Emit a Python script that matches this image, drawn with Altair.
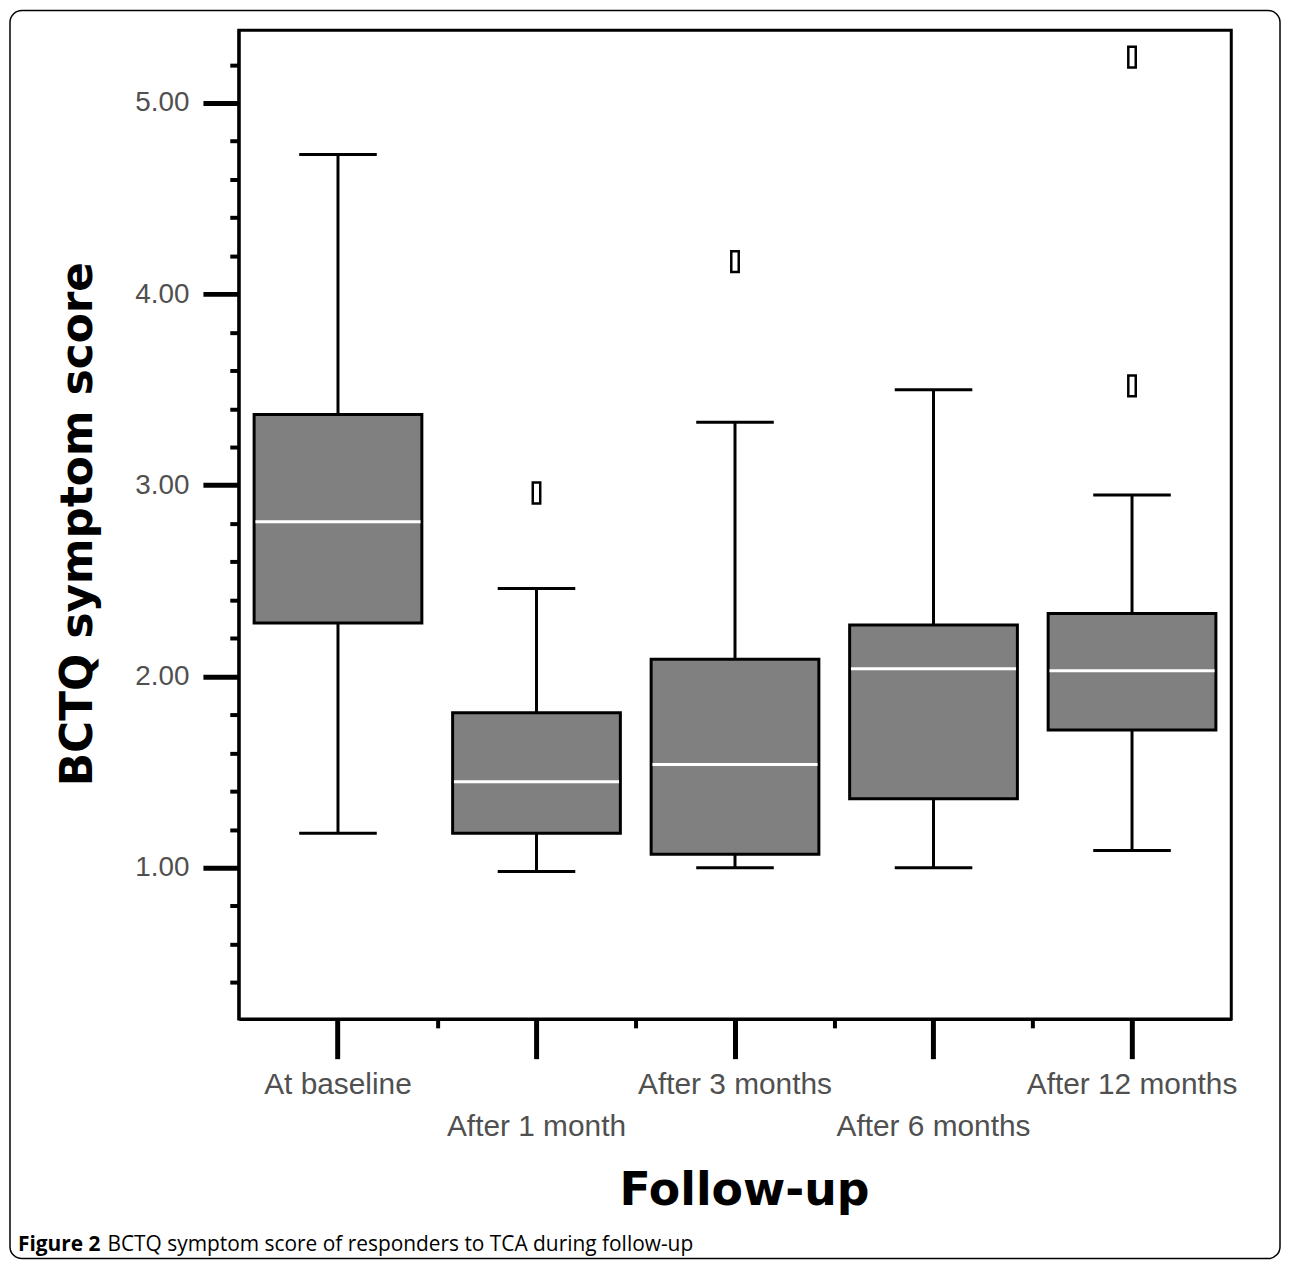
import altair as alt
import pandas as pd

# ---- data ----
categories = ["At baseline", "After 1 month", "After 3 months", "After 6 months", "After 12 months"]
whisker_low = [1.18, 0.98, 1.00, 1.00, 1.09]
q1 = [2.28, 1.18, 1.07, 1.36, 1.72]
median = [2.81, 1.45, 1.54, 2.04, 2.03]
q3 = [3.37, 1.81, 2.09, 2.27, 2.33]
whisker_high = [4.73, 2.46, 3.33, 3.50, 2.95]

outlier_group = ["After 1 month", "After 3 months", "After 12 months", "After 12 months"]
outlier_value = [2.96, 4.17, 5.24, 3.52]

y_tick_values = [0.4, 0.6, 0.8, 1.0, 1.2, 1.4, 1.6, 1.8, 2.0, 2.2, 2.4, 2.6, 2.8,
                 3.0, 3.2, 3.4, 3.6, 3.8, 4.0, 4.2, 4.4, 4.6, 4.8, 5.0, 5.2]
x_minor_ticks = [1, 2, 3, 4]
second_row_labels = ["After 1 month", "After 6 months"]

y_title = "BCTQ symptom score"
x_title = "Follow-up"
caption_bold = "Figure 2"
caption_rest = "BCTQ symptom score of responders to TCA during follow-up"

# ---- tables ----
box_df = pd.DataFrame({
    "group": categories, "low": whisker_low, "q1": q1,
    "median": median, "q3": q3, "high": whisker_high,
})
out_df = pd.DataFrame({"group": outlier_group, "value": outlier_value})

W, H = 998, 994
LABEL_FONT = "Liberation Sans"
TITLE_FONT = "DejaVu Sans"

xscale = alt.Scale(domain=categories, paddingInner=0, paddingOuter=0)
yscale = alt.Scale(domain=[0.209, 5.38], nice=False, zero=False)

is_major = "abs(datum.value - round(datum.value)) < 0.001"
second_row_test = " || ".join([f"datum.value == '{c}'" for c in second_row_labels])

y_axis = alt.Axis(
    title=y_title, values=y_tick_values, grid=False,
    tickSize={"condition": {"test": is_major, "value": 36}, "value": 9},
    tickWidth={"condition": {"test": is_major, "value": 5}, "value": 4},
    tickColor="black", domainColor="black", domainWidth=3,
    labelExpr=f"{is_major} ? format(datum.value, '.2f') : ''",
    labelFont=LABEL_FONT, labelFontSize=28, labelColor="#505050",
    labelPadding=14, labelOverlap=False, labelBaseline="middle",
    titleFont=TITLE_FONT, titleFontSize=44, titleFontWeight="bold", titleColor="black",
    titleAngle=-90, titleX=-148, titleY=496, titleAlign="center",
    titleBaseline="alphabetic", titleLimit=800,
)

x_axis = alt.Axis(
    title=x_title, labelAngle=0, grid=False,
    tickSize=40, tickWidth=5, tickColor="black",
    domainColor="black", domainWidth=3,
    labelFont=LABEL_FONT, labelFontSize=30, labelColor="#505050",
    labelBaseline="top", labelLimit=400, labelOverlap=False,
    labelPadding={"condition": {"test": second_row_test, "value": 53}, "value": 11},
    titleFont=TITLE_FONT, titleFontSize=46, titleFontWeight="bold", titleColor="black",
    titleX=508, titleY=187, titleAlign="center", titleBaseline="alphabetic",
    titleLimit=600,
)

X = alt.X("group:N", scale=xscale, axis=x_axis, sort=categories)

base = alt.Chart(box_df)

whiskers = base.mark_rule(color="black", strokeWidth=3).encode(
    x=X,
    y=alt.Y("low:Q", scale=yscale, axis=y_axis),
    y2="high:Q",
)
boxes = base.mark_bar(
    fill="#808080", stroke="black", strokeWidth=3,
    width=alt.RelativeBandSize(0.845),
).encode(
    x=X,
    y=alt.Y("q1:Q", scale=yscale, axis=y_axis),
    y2="q3:Q",
)
medians = base.mark_tick(color="white", size=166, thickness=3, opacity=1).encode(
    x=X,
    y=alt.Y("median:Q", scale=yscale, axis=y_axis),
)
caps_low = base.mark_tick(color="black", size=78, thickness=3, opacity=1).encode(
    x=X,
    y=alt.Y("low:Q", scale=yscale, axis=y_axis),
)
caps_high = base.mark_tick(color="black", size=78, thickness=3, opacity=1).encode(
    x=X,
    y=alt.Y("high:Q", scale=yscale, axis=y_axis),
)
outliers = alt.Chart(out_df).mark_point(
    shape="M-0.357,-1L0.357,-1L0.357,1L-0.357,1Z",
    size=441, filled=False, stroke="black", strokeWidth=2.5, opacity=1,
).encode(
    x=X,
    y=alt.Y("value:Q", scale=yscale, axis=y_axis),
)

main = alt.layer(whiskers, boxes, medians, caps_low, caps_high, outliers)

minor = alt.Chart(pd.DataFrame({"b": x_minor_ticks})).mark_point(opacity=0).encode(
    x=alt.X("b:Q", scale=alt.Scale(domain=[0, 5], nice=False, zero=False),
            axis=alt.Axis(values=x_minor_ticks, tickSize=9, tickWidth=4, tickColor="black",
                          labels=False, domain=False, grid=False, title=None, orient="bottom")),
    y=alt.value(0),
)

frame = alt.Chart(pd.DataFrame({"a": [0]})).mark_rect(
    fillOpacity=0, stroke="black", strokeWidth=1.5, cornerRadius=12,
).encode(
    x=alt.value(-230), x2=alt.value(1047), y=alt.value(-20), y2=alt.value(1235),
)

cap1 = alt.Chart(pd.DataFrame({"t": [caption_bold]})).mark_text(
    align="left", baseline="alphabetic", font="Open Sans", fontSize=21,
    fontWeight="bold", color="black",
).encode(x=alt.value(-222), y=alt.value(1227), text="t:N")

cap2 = alt.Chart(pd.DataFrame({"t": [caption_rest]})).mark_text(
    align="left", baseline="alphabetic", font="Open Sans", fontSize=21,
    color="black",
).encode(x=alt.value(-132), y=alt.value(1227), text="t:N")

chart = alt.layer(main, minor, frame, cap1, cap2).resolve_scale(
    x="independent"
).properties(
    width=W, height=H,
    autosize=alt.AutoSizeParams(type="none"),
    padding={"left": 232, "top": 19, "right": 51, "bottom": 244},
).configure_view(stroke="black", strokeWidth=3)

chart.save("out.html", embed_options={"renderer": "svg", "actions": False})
